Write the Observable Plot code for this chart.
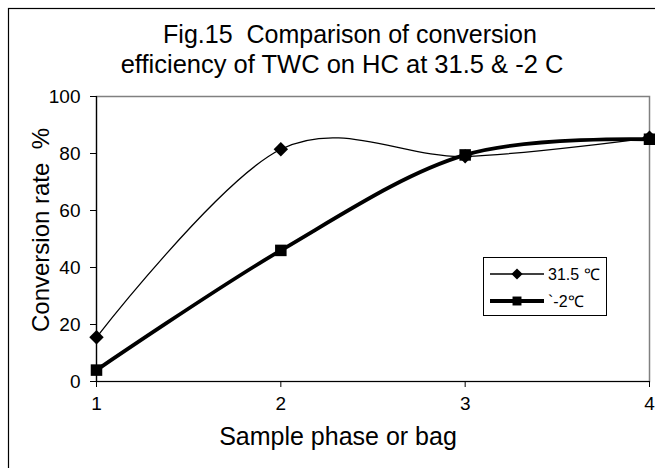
<!DOCTYPE html>
<html>
<head>
<meta charset="utf-8">
<script src="https://cdn.jsdelivr.net/npm/d3@7"></script>
<script src="https://cdn.jsdelivr.net/npm/@observablehq/plot@0.6"></script>
<style>
  html, body { margin: 0; padding: 0; background: white; }
  #chart { width: 655px; height: 468px; overflow: hidden; }
</style>
</head>
<body>
<div id="chart"></div>
<script>
// ---- data ----
const phases = [1, 2, 3, 4];
const hotValues = [15.5, 81.5, 79, 85.5];   // 31.5 ℃
const coldValues = [4, 46, 79.5, 85];       // -2 ℃
const seriesNames = ["31.5 ℃", "`-2℃"];
const xTicks = [1, 2, 3, 4];
const yTicks = [0, 20, 40, 60, 80, 100];
const titleLines = ["Fig.15  Comparison of conversion", "efficiency of TWC on HC at 31.5 & -2 C"];
const xLabel = "Sample phase or bag";
const yLabel = "Conversion rate  %";

const hot = phases.map((p, i) => ({x: p, y: hotValues[i]}));
const cold = phases.map((p, i) => ({x: p, y: coldValues[i]}));

const W = 655, H = 468;
const font = "'Liberation Sans', Arial, sans-serif";

const chart = Plot.plot({
  width: W, height: H,
  marginLeft: 96, marginRight: 6, marginTop: 96, marginBottom: 87,
  style: {fontFamily: font, fontSize: "19px", background: "white", color: "black"},
  x: {domain: [1, 4]},
  y: {domain: [0, 100]},
  marks: [
    Plot.frame({stroke: "#808080", strokeWidth: 1.5}),
    Plot.axisX({ticks: xTicks, tickSize: 6, tickPadding: 9, label: null, tickFormat: d => String(d), fontSize: 19}),
    Plot.axisY({ticks: yTicks, tickSize: 6, tickPadding: 10, label: null, tickFormat: d => String(d), fontSize: 19}),
    Plot.ruleY([0], {stroke: "black", strokeWidth: 1.2}),
    Plot.ruleX([1], {stroke: "black", strokeWidth: 1.2}),
    Plot.line(hot, {x: "x", y: "y", curve: "cardinal", stroke: "black", strokeWidth: 1.3}),
    Plot.line(cold, {x: "x", y: "y", curve: "cardinal", stroke: "black", strokeWidth: 3.8}),
    Plot.dot(hot, {x: "x", y: "y", symbol: "diamond2", r: 6.5, fill: "black", stroke: "none"}),
    Plot.dot(cold, {x: "x", y: "y", symbol: "square", r: 6.5, fill: "black", stroke: "none"})
  ]
});

document.getElementById("chart").appendChild(chart);
const svg = d3.select(chart);

// outer chart border (extends past right/bottom edges)
svg.insert("rect", ":first-child")
  .attr("x", 8.5).attr("y", 8.5).attr("width", W + 20).attr("height", H + 20)
  .attr("fill", "white").attr("stroke", "black").attr("stroke-width", 1.2);

// title
const t = svg.append("text").attr("font-family", font).attr("font-size", 25)
  .attr("text-anchor", "middle").attr("fill", "black");
t.append("tspan").attr("x", 350).attr("y", 43).text(titleLines[0]);
t.append("tspan").attr("font-size", 25.5).attr("x", 342).attr("y", 73).text(titleLines[1]);

// axis labels
svg.append("text").attr("font-family", font).attr("font-size", 25)
  .attr("text-anchor", "middle").attr("x", 338).attr("y", 445).text(xLabel);
svg.append("text").attr("font-family", font).attr("font-size", 24)
  .attr("text-anchor", "middle")
  .attr("transform", "translate(49,230) rotate(-90)").text(yLabel);

// legend
const lg = svg.append("g").attr("font-family", font).attr("font-size", 16).attr("text-anchor", "start");
lg.append("rect").attr("x", 483.5).attr("y", 257.5).attr("width", 123).attr("height", 58)
  .attr("fill", "white").attr("stroke", "black").attr("stroke-width", 1);
const rows = [
  {name: seriesNames[0], y: 274, w: 1.3, sym: d3.symbolDiamond2, s: 80},
  {name: seriesNames[1], y: 301, w: 3.8, sym: d3.symbolSquare, s: 80}
];
rows.forEach(r => {
  lg.append("line").attr("x1", 490).attr("x2", 544).attr("y1", r.y).attr("y2", r.y)
    .attr("stroke", "black").attr("stroke-width", r.w);
  lg.append("path").attr("d", d3.symbol(r.sym, r.s)()).attr("transform", `translate(517,${r.y})`)
    .attr("fill", "black");
  lg.append("text").attr("x", 548).attr("y", r.y).attr("dy", "0.35em").text(r.name);
});
</script>
</body>
</html>
